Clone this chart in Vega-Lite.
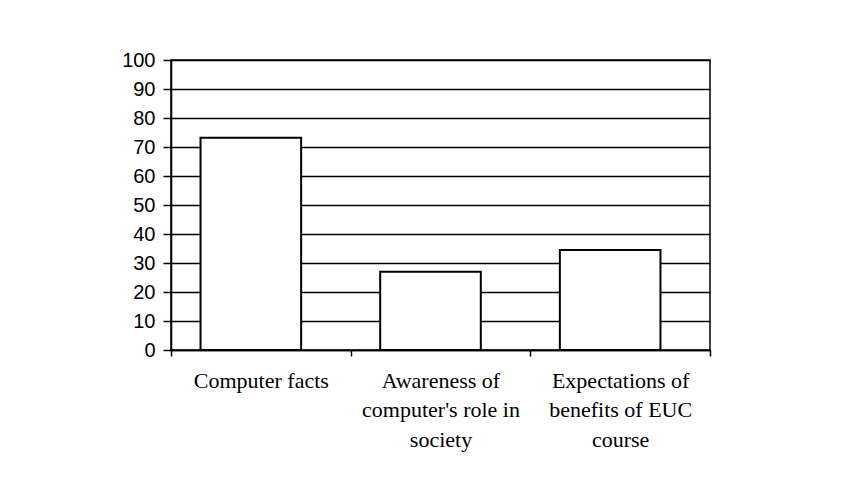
{
  "$schema": "https://vega.github.io/schema/vega-lite/v6.json",
  "autosize": "none",
  "padding": {"left": 171, "top": 60, "right": 155, "bottom": 129},
  "width": 539,
  "height": 290,
  "background": "white",
  "config": {"view": {"stroke": "black", "strokeWidth": 1.5}},
  "data": {"values": [
    {"category": "Computer facts", "value": 73.2},
    {"category": "Awareness of|computer's role in|society", "value": 27.0},
    {"category": "Expectations of|benefits of EUC|course", "value": 34.5}
  ]},
  "mark": {"type": "bar", "fill": "white", "stroke": "black", "strokeWidth": 2, "width": {"band": 0.56}, "xOffset": -10},
  "encoding": {
    "x": {"field": "category", "type": "nominal", "sort": null,
      "scale": {"paddingInner": 0, "paddingOuter": 0},
      "axis": {"title": null, "labelAngle": 0, "labelExpr": "split(datum.label, '|')",
        "labelFont": "Liberation Serif", "labelFontSize": 22, "labelColor": "black",
        "labelLineHeight": 29.5, "labelPadding": 14, "labelBaseline": "top",
        "domainColor": "black", "domainWidth": 1.5, "tickColor": "black", "tickWidth": 1.5, "tickSize": 6, "tickBand": "extent", "labelBound": false}},
    "y": {"field": "value", "type": "quantitative",
      "scale": {"domain": [0, 100], "nice": false},
      "axis": {"title": null, "values": [0,10,20,30,40,50,60,70,80,90,100],
        "labelFont": "Liberation Sans", "labelFontSize": 20, "labelColor": "black", "labelPadding": 8,
        "domainColor": "black", "domainWidth": 1.5, "tickColor": "black", "tickWidth": 1.5, "tickSize": 8,
        "grid": true, "gridColor": "black", "gridWidth": 1.3, "gridOpacity": 1}}
  }
}
